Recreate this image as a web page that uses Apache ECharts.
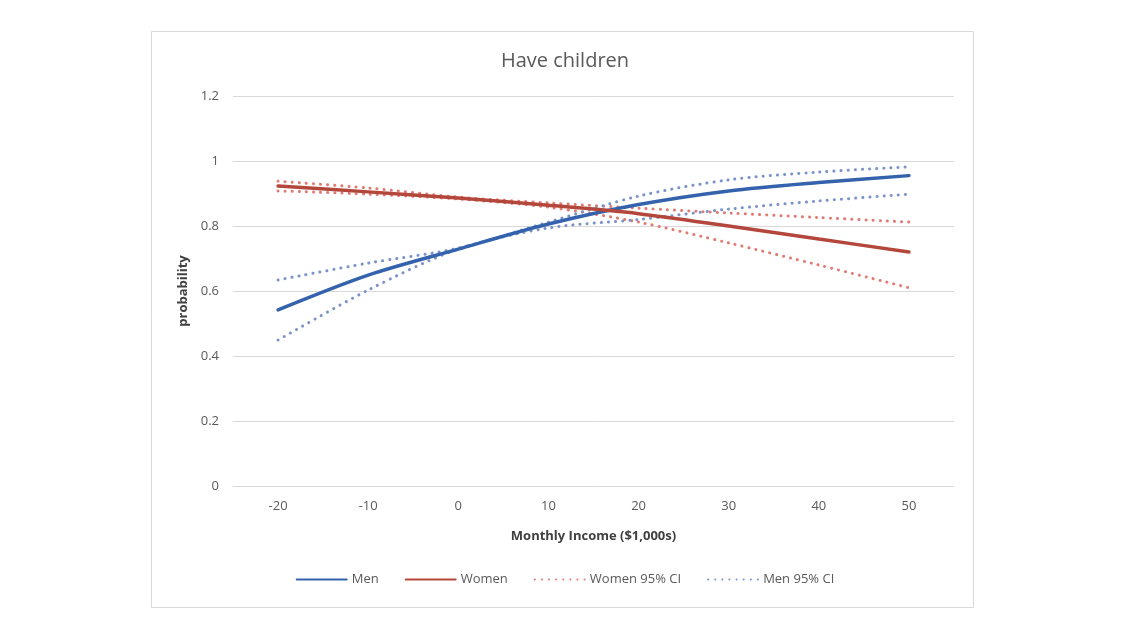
<!DOCTYPE html>
<html><head><meta charset="utf-8">
<script src="https://cdn.jsdelivr.net/npm/echarts@6/dist/echarts.min.js"></script>
<style>html,body{margin:0;padding:0;background:#fff;}#c{width:1130px;height:631px;}</style>
</head><body><div id="c"></div>
<script>
const categories = ['-20','-10','0','10','20','30','40','50'];
const men        = [0.542, 0.649, 0.729, 0.806, 0.866, 0.908, 0.934, 0.955];
const women      = [0.923, 0.905, 0.886, 0.864, 0.838, 0.800, 0.760, 0.720];
const womenUpper = [0.938, 0.917, 0.889, 0.871, 0.855, 0.840, 0.826, 0.812];
const womenLower = [0.908, 0.898, 0.883, 0.858, 0.812, 0.748, 0.680, 0.610];
const menUpper   = [0.634, 0.686, 0.732, 0.812, 0.892, 0.942, 0.966, 0.982];
const menLower   = [0.449, 0.603, 0.729, 0.794, 0.820, 0.852, 0.877, 0.898];
const yTicks = { min: 0, max: 1.2, interval: 0.2 };

const blue = '#3462AC', red = '#B4473B', redDot = '#E07A72', blueDot = '#7A93C8';
const chart = echarts.init(document.getElementById('c'));
function line(name, data, color, type, width, z) {
  return { name, type: 'line', data, symbol: 'none', smooth: 0.3, z,
    lineStyle: { color, width, type, cap: 'round' }, itemStyle: { color } };
}
chart.setOption({
  animation: false,
  graphic: [{ type: 'rect', shape: { x: 151.5, y: 31.5, width: 822, height: 576 },
    style: { fill: 'none', stroke: '#d9d9d9', lineWidth: 1 }, silent: true }],
  title: { text: 'Have children', left: 'center', top: 46,
    textStyle: { fontFamily: 'Open Sans', fontSize: 20, fontWeight: 'normal', color: '#595959' } },
  grid: { left: 233, right: 176, top: 96, bottom: 145 },
  legend: { bottom: 40, left: 'center', itemWidth: 50, itemHeight: 10, itemGap: 26,
    data: ['Men', 'Women', 'Women 95% CI', 'Men 95% CI'],
    itemStyle: { opacity: 0 },
    textStyle: { fontFamily: 'Open Sans', fontSize: 13, color: '#595959' } },
  xAxis: { type: 'category', data: categories, boundaryGap: true,
    name: 'Monthly Income ($1,000s)', nameLocation: 'middle', nameGap: 44,
    nameTextStyle: { fontFamily: 'Open Sans', fontSize: 13, fontWeight: 'bold', color: '#404040' },
    axisLine: { show: false }, axisTick: { show: false },
    axisLabel: { fontFamily: 'Open Sans', fontSize: 13, color: '#595959', margin: 14 } },
  yAxis: { type: 'value', min: yTicks.min, max: yTicks.max, interval: yTicks.interval,
    name: 'probability', nameLocation: 'middle', nameGap: 37, nameRotate: 90,
    nameTextStyle: { fontFamily: 'Open Sans', fontSize: 13, fontWeight: 'bold', color: '#404040' },
    axisLine: { show: false }, axisTick: { show: false },
    splitLine: { lineStyle: { color: '#d9d9d9', width: 1 } },
    axisLabel: { fontFamily: 'Open Sans', fontSize: 13, color: '#595959', margin: 14,
      formatter: v => String(Math.round(v * 10) / 10) } },
  series: [
    line('Women 95% CI', womenUpper, redDot, [0.1, 7], 3, 2),
    line('Women 95% CI', womenLower, redDot, [0.1, 7], 3, 2),
    line('Men 95% CI', menUpper, blueDot, [0.1, 7], 3, 2),
    line('Men 95% CI', menLower, blueDot, [0.1, 7], 3, 2),
    line('Men', men, blue, 'solid', 3.5, 3),
    line('Women', women, red, 'solid', 3.5, 3)
  ]
});
</script></body></html>
